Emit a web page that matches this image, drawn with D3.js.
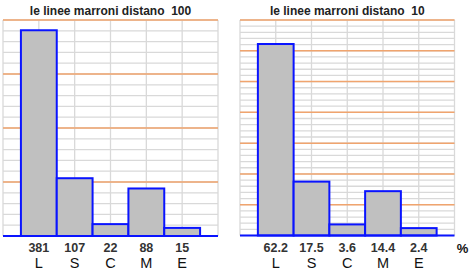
<!DOCTYPE html>
<html><head><meta charset="utf-8">
<script src="https://cdn.jsdelivr.net/npm/d3@7"></script>
<style>
html,body{margin:0;padding:0;background:#fff;}
svg{display:block;font-family:"Liberation Sans",Arial,sans-serif;}
</style></head>
<body><svg id="c" width="470" height="272"></svg>
<script>
const categories = ["L","S","C","M","E"];
const countValues = [381,107,22,88,15];
const countLabels = ["381","107","22","88","15"];
const percentValues = [62.2,17.5,3.6,14.4,2.4];
const percentLabels = ["62.2","17.5","3.6","14.4","2.4"];
const titles = ["le linee marroni distano  100","le linee marroni distano  10"];

const svg = d3.select("#c");

function panel(opt){
  const g = svg.append("g");
  const x = d3.scaleLinear().domain([0,6]).range([opt.x0,opt.x1]);
  const y = d3.scaleLinear().domain([0,opt.max]).range([opt.y0,opt.y1]);
  const minor = d3.range(0,opt.max+1e-9,opt.minor);
  g.selectAll(".mg").data(minor).join("line")
    .attr("x1",opt.x0).attr("x2",opt.x1)
    .attr("y1",d=>y(d)).attr("y2",d=>y(d))
    .attr("stroke","#d9d9d9").attr("stroke-width",1.3);
  g.selectAll(".vg").data(d3.range(0,7)).join("line")
    .attr("x1",d=>x(d)).attr("x2",d=>x(d))
    .attr("y1",opt.y1).attr("y2",opt.y0)
    .attr("stroke","#d9d9d9").attr("stroke-width",1.3);
  const major = d3.range(opt.major,opt.max+1e-9,opt.major);
  g.selectAll(".Mg").data(major).join("line")
    .attr("x1",opt.x0).attr("x2",opt.x1)
    .attr("y1",d=>y(d)).attr("y2",d=>y(d))
    .attr("stroke","#f0a46e").attr("stroke-width",1.5);
  const bw = x(1)-x(0);
  g.selectAll(".bar").data(opt.values).join("rect")
    .attr("x",(d,i)=>x(i+1)-bw/2)
    .attr("width",bw)
    .attr("y",d=>y(d))
    .attr("height",d=>y(0)-y(d))
    .attr("fill","#c0c0c0").attr("stroke","#0a14ff").attr("stroke-width",2);
  g.append("line").attr("x1",opt.x0).attr("x2",opt.x1)
    .attr("y1",y(0)).attr("y2",y(0))
    .attr("stroke","#0a14ff").attr("stroke-width",2.2);
  g.selectAll(".vl").data(opt.labels).join("text")
    .attr("x",(d,i)=>x(i+1)).attr("y",251.5)
    .attr("text-anchor","middle").attr("font-size","12.5px").attr("font-weight","bold")
    .attr("fill","#333").text(d=>d);
  g.selectAll(".cl").data(categories).join("text")
    .attr("x",(d,i)=>x(i+1)).attr("y",268.3)
    .attr("text-anchor","middle").attr("font-size","14.5px")
    .attr("fill","#111").text(d=>d);
  g.append("text").attr("x",(opt.x0+opt.x1)/2).attr("y",15)
    .attr("text-anchor","middle").attr("font-size","12px").attr("font-weight","bold")
    .attr("fill","#222").style("white-space","pre").attr("xml:space","preserve").text(opt.title);
}

panel({x0:3,x1:218,y0:236,y1:20,max:400,major:100,minor:20,values:countValues,labels:countLabels,title:titles[0]});
panel({x0:240,x1:454.5,y0:235.5,y1:20,max:70,major:10,minor:2,values:percentValues,labels:percentLabels,title:titles[1]});
svg.append("text").attr("x",462.5).attr("y",253).attr("text-anchor","middle")
  .attr("font-size","13px").attr("font-weight","bold").attr("fill","#111").text("%");
</script></body></html>
